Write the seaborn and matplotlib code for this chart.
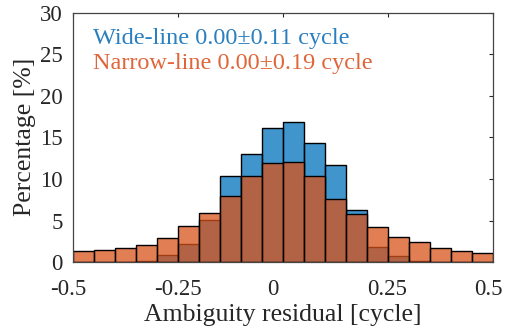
import numpy as np
import pandas as pd
import matplotlib
matplotlib.use("Agg")
import matplotlib.pyplot as plt
import matplotlib.transforms as mtransforms
import seaborn as sns

# Data
bin_edges = [-0.5, -0.45, -0.4, -0.35, -0.3, -0.25, -0.2, -0.15, -0.1, -0.05, 0.0,
             0.05, 0.1, 0.15, 0.2, 0.25, 0.3, 0.35, 0.4, 0.45, 0.5]
wide_pct = [0.0, 0.0, 0.0, 0.08, 0.84, 2.2, 5.12, 10.32, 13.04, 16.12,
            16.84, 14.28, 11.64, 6.24, 1.84, 0.76, 0.08, 0.0, 0.0, 0.0]
narrow_pct = [1.28, 1.48, 1.64, 2.0, 2.84, 4.36, 5.96, 7.92, 10.36, 11.88,
              12.04, 10.32, 7.6, 5.76, 4.24, 3.0, 2.4, 1.72, 1.32, 1.12]
wide_label = "Wide-line 0.00\u00b10.11 cycle"
narrow_label = "Narrow-line 0.00\u00b10.19 cycle"
x_ticks = [-0.5, -0.25, 0, 0.25, 0.5]
x_ticklabels = ["-0.5", "-0.25", "0", "0.25", "0.5"]
y_ticks = [0, 5, 10, 15, 20, 25, 30]

sns.set_style("white")
plt.rcParams['font.family'] = ['Liberation Serif', 'DejaVu Serif']

centers = [(bin_edges[i] + bin_edges[i + 1]) / 2 for i in range(len(bin_edges) - 1)]
df_w = pd.DataFrame({"x": centers, "w": wide_pct})
df_n = pd.DataFrame({"x": centers, "w": narrow_pct})

blue = "#0072BD"
orange = "#D95319"

fig = plt.figure(figsize=(5.05, 3.33), dpi=100)
ax = fig.add_axes([0.144, 0.213, 0.832, 0.749])

sns.histplot(data=df_w, x="x", weights="w", bins=bin_edges, stat="count",
             color=blue, alpha=0.75, edgecolor="black", linewidth=1.0, ax=ax)
sns.histplot(data=df_n, x="x", weights="w", bins=bin_edges, stat="count",
             color=orange, alpha=0.75, edgecolor="black", linewidth=1.0, ax=ax)

ax.set_xlim(-0.5, 0.5)
ax.set_ylim(0, 30)
ax.set_xticks(x_ticks)
ax.set_xticklabels(x_ticklabels)
ax.set_yticks(y_ticks)
ax.tick_params(direction="in", length=3, width=0.8, top=True, right=True,
               labelsize=16.5, colors="#262626")
ax.tick_params(axis="x", pad=12)
ax.tick_params(axis="y", pad=7)
for s in ax.spines.values():
    s.set_color("#444444")
    s.set_linewidth(0.9)

# small horizontal nudges of the x tick labels as in the reference
nudges = [-4, 0, -10, -1, -5]
for lab, dx in zip(ax.get_xticklabels(), nudges):
    lab.set_transform(lab.get_transform() +
                      mtransforms.ScaledTranslation(dx / 100, 0, fig.dpi_scale_trans))

ax.set_xlabel("Ambiguity residual [cycle]", fontsize=18.5, color="#262626", labelpad=3)
ax.set_ylabel("Percentage [%]", fontsize=18.5, color="#262626", labelpad=3)

ax.text(0.048, 0.898, wide_label, transform=ax.transAxes, fontsize=17.5,
        color="#2a7fbf", va="center", ha="left")
ax.text(0.048, 0.798, narrow_label, transform=ax.transAxes, fontsize=17.5,
        color="#e0663a", va="center", ha="left")

fig.savefig("out.png", dpi=100)
